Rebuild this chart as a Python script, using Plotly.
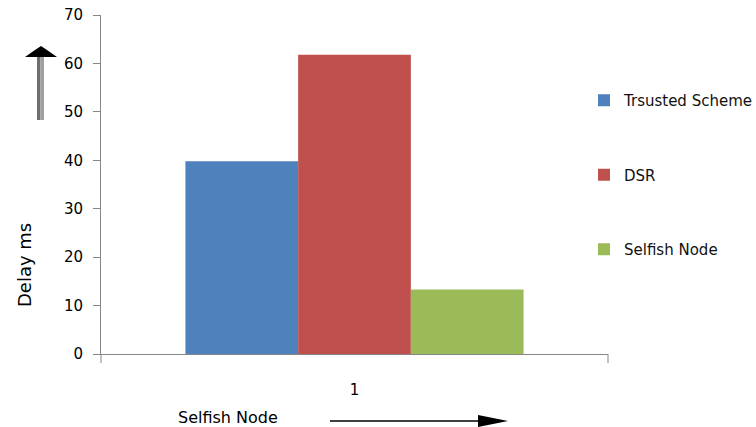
import plotly.graph_objects as go

categories = ["1"]
series_names = ["Trsusted Scheme", "DSR", "Selfish Node"]
series_values = [[39.8], [61.8], [13.3]]
colors = ["#4F81BD", "#C0504D", "#9BBB59"]
y_ticks = [0, 10, 20, 30, 40, 50, 60, 70]

W, H = 756, 427
ml, mr, mt, mb = 101, 148, 15, 73
pw = W - ml - mr
ph = H - mt - mb


def px(x):
    return (x - ml) / pw


def py(y):
    return (H - mb - y) / ph


fig = go.Figure()
for i, (name, vals) in enumerate(zip(series_names, series_values)):
    fig.add_trace(go.Bar(x=categories, y=vals, name=name, marker_color=colors[i],
                         marker_line_width=0, legendgroup=name))

fig.update_layout(
    width=W, height=H,
    margin=dict(l=ml, r=mr, t=mt, b=mb, autoexpand=False),
    paper_bgcolor="white", plot_bgcolor="white",
    barmode="group", bargap=0.333, bargroupgap=0,
    font=dict(family="DejaVu Sans", size=14, color="#111"),
    showlegend=True,
    legend=dict(x=px(584), y=py(84), xanchor="left", yanchor="top",
                tracegroupgap=52, font=dict(size=15, color="#111"),
                itemwidth=30, bgcolor="rgba(0,0,0,0)"),
    xaxis=dict(showgrid=False, showline=True, linecolor="#868686", linewidth=1,
               ticks="outside", ticklen=22, tickcolor="rgba(0,0,0,0)",
               tickfont=dict(size=15, color="#000")),
    yaxis=dict(range=[0, 70], tickvals=y_ticks, showgrid=False, showline=True,
               linecolor="#868686", linewidth=1, ticks="outside", ticklen=7,
               tickcolor="#868686", tickfont=dict(size=15, color="#000"), zeroline=False,
               ticklabelstandoff=7),
)

# category boundary ticks
for xp in [0, 1]:
    fig.add_shape(type="line", xref="paper", yref="paper", x0=xp, x1=xp,
                  y0=0, y1=-9 / ph, line=dict(color="#868686", width=1))

# axis titles
fig.add_annotation(text="Delay ms", xref="paper", yref="paper", x=px(24), y=py(265),
                   textangle=-90, showarrow=False,
                   font=dict(size=18, color="#000"), xanchor="center", yanchor="middle")
fig.add_annotation(text="Selfish Node", xref="paper", yref="paper",
                   x=px(228), y=py(417), showarrow=False,
                   font=dict(size=16, color="#000"), xanchor="center", yanchor="middle")

# up arrow: grey shaft + black head
fig.add_shape(type="rect", xref="paper", yref="paper", x0=px(37), x1=px(40.5),
              y0=py(120), y1=py(56), line_width=0, fillcolor="#6e6e6e")
fig.add_shape(type="rect", xref="paper", yref="paper", x0=px(40.5), x1=px(44),
              y0=py(120), y1=py(56), line_width=0, fillcolor="#a0a0a0")
fig.add_shape(type="path", xref="paper", yref="paper",
              path=f"M {px(25)} {py(57)} L {px(35)} {py(50)} L {px(41)} {py(46)} "
                   f"L {px(47)} {py(50)} L {px(57)} {py(57)} Z",
              line_width=0, fillcolor="#000")

# right arrow
fig.add_shape(type="line", xref="paper", yref="paper", x0=px(330), x1=px(482),
              y0=py(421), y1=py(421), line=dict(color="#000", width=1.5))
fig.add_shape(type="path", xref="paper", yref="paper",
              path=f"M {px(478)} {py(415)} L {px(508)} {py(421)} L {px(478)} {py(427)} Z",
              line_width=0, fillcolor="#000")

fig.write_html("out.html")
